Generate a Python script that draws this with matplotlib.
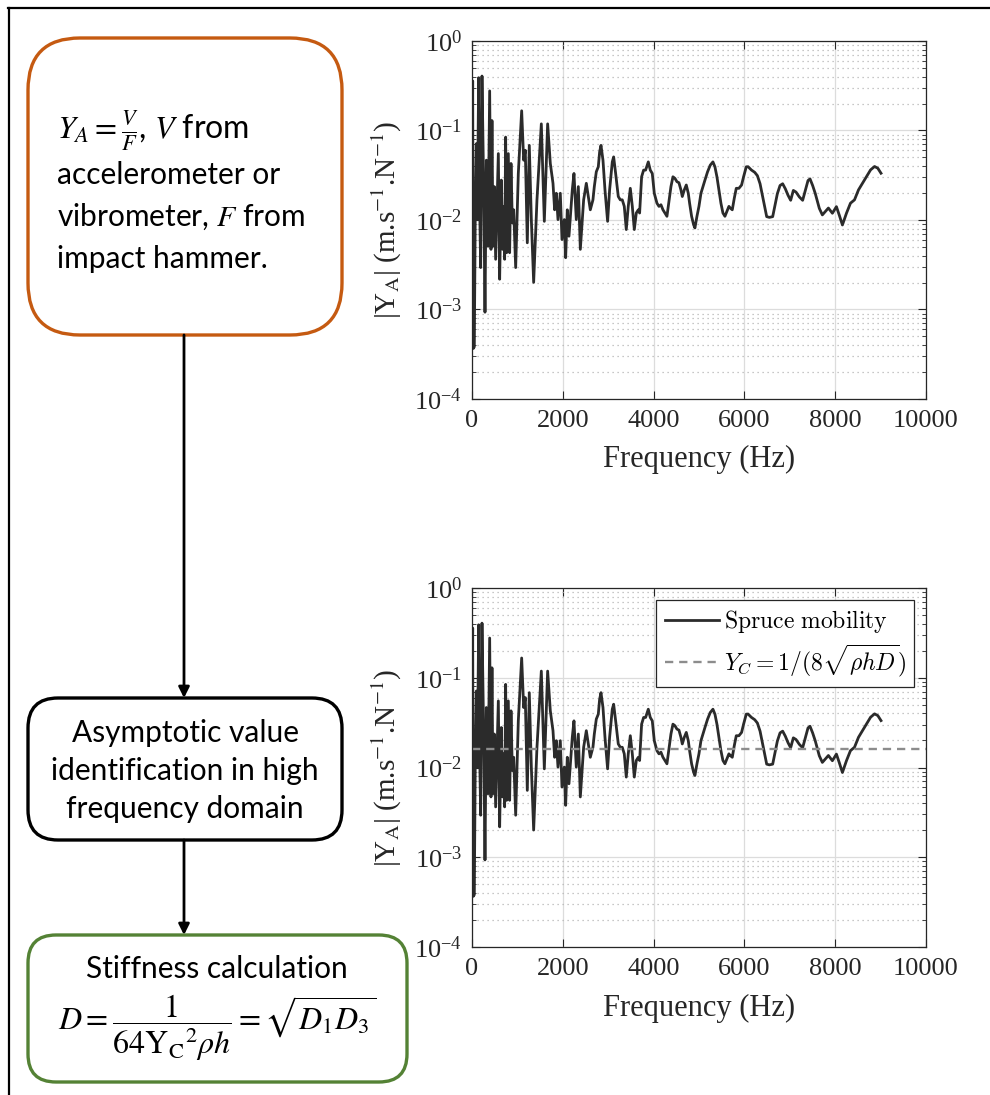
import matplotlib
matplotlib.use('Agg')
import matplotlib.pyplot as plt
from matplotlib.patches import FancyBboxPatch
from matplotlib.ticker import LogLocator, LogFormatterMathtext, NullFormatter
from matplotlib.font_manager import FontProperties

plt.rcParams['font.family'] = 'Liberation Serif'
plt.rcParams['mathtext.fontset'] = 'stix'

# measured point mobility |Y_A| of the spruce plate (Hz, m/s/N)
freq = [0, 15, 29, 51, 73, 95, 117, 147, 169, 191,
        220, 257, 286, 316, 352, 389, 418, 440, 462, 492,
        521, 551, 580, 609, 646, 675, 697, 719, 741, 763,
        800, 829, 859, 888, 918, 962, 1020, 1094, 1138, 1174,
        1218, 1262, 1307, 1358, 1431, 1527, 1593, 1666, 1725, 1784,
        1820, 1857, 1894, 1945, 1982, 2033, 2063, 2099, 2136, 2173,
        2209, 2246, 2297, 2342, 2386, 2459, 2518, 2562, 2606, 2664,
        2694, 2738, 2782, 2811, 2841, 2885, 2929, 2987, 3031, 3090,
        3120, 3164, 3222, 3266, 3310, 3354, 3398, 3442, 3487, 3531,
        3575, 3619, 3663, 3692, 3736, 3780, 3824, 3883, 3927, 3971,
        4015, 4074, 4118, 4162, 4206, 4250, 4294, 4338, 4382, 4426,
        4470, 4514, 4558, 4602, 4632, 4676, 4720, 4764, 4793, 4837,
        4881, 4910, 4955, 4999, 5043, 5087, 5131, 5189, 5248, 5307,
        5351, 5395, 5439, 5483, 5527, 5571, 5615, 5659, 5689, 5733,
        5777, 5821, 5879, 5938, 5982, 6041,
        6081, 6154, 6227, 6286, 6345, 6403, 6447, 6491, 6550, 6623,
        6667, 6726, 6785, 6843, 6902, 6961, 7019, 7078, 7137, 7210,
        7283, 7342, 7401, 7445, 7503, 7562, 7613, 7650, 7717, 7850,
        7938, 8027, 8088, 8159, 8248, 8336, 8425, 8513, 8646, 8779,
        8867, 8938, 9009]

mag = [0.0101, 0.358, 0.000367, 0.000383, 0.0142, 0.0712, 0.0101, 0.389, 0.0142, 0.00294,
       0.406, 0.0236, 0.000933, 0.0466, 0.0051, 0.277, 0.0047, 0.129, 0.0051, 0.0236,
       0.00364, 0.0142, 0.0552, 0.00218, 0.0279, 0.0047, 0.0142, 0.00364, 0.0844, 0.00431,
       0.0552, 0.00431, 0.0428, 0.00927, 0.0130, 0.00294, 0.0331, 0.166, 0.0466, 0.0601,
       0.00556, 0.0682, 0.0101, 0.00201, 0.0168, 0.1186, 0.00966, 0.1186, 0.0428, 0.0257,
       0.0130, 0.0199, 0.0101, 0.0199, 0.00605, 0.0101, 0.00379, 0.0130, 0.00659, 0.01197,
       0.0217, 0.0331, 0.0101, 0.0236, 0.0047, 0.0168, 0.0257, 0.0183, 0.0130, 0.0168,
       0.0236, 0.0346, 0.0393, 0.0575, 0.0682, 0.0466, 0.0217, 0.00966, 0.0217, 0.0446,
       0.0507, 0.0331, 0.0183, 0.0168, 0.0168, 0.0142, 0.00782, 0.0142, 0.0226, 0.0142,
       0.00782, 0.01197, 0.0130, 0.01197, 0.0304, 0.0361, 0.0361, 0.0446, 0.0361, 0.0331,
       0.0199, 0.0154, 0.0142, 0.0148, 0.0130, 0.01197, 0.0110, 0.0161, 0.0236, 0.0304,
       0.0292, 0.0268, 0.0261, 0.0217, 0.0183, 0.0217, 0.0246, 0.0199, 0.0154, 0.0110,
       0.00887, 0.00815, 0.0110, 0.0142, 0.0199, 0.0236, 0.0279, 0.0346, 0.0410, 0.0446,
       0.0393, 0.0304, 0.0217, 0.0154, 0.01197, 0.0110, 0.01247, 0.0142, 0.0136, 0.0130,
       0.0175, 0.0226, 0.0226, 0.0246, 0.0304, 0.0393,
       0.0394, 0.0362, 0.0341, 0.0313, 0.0254, 0.0181, 0.0140, 0.0109, 0.0107, 0.0109,
       0.0140, 0.0197, 0.0243, 0.0254, 0.0223, 0.0189, 0.0166, 0.0214, 0.0205, 0.0181,
       0.0166, 0.0214, 0.0276, 0.0288, 0.0243, 0.0197, 0.0159, 0.0135, 0.0114, 0.0136,
       0.0119, 0.0141, 0.0114, 0.0088, 0.0119, 0.0154, 0.0168, 0.0217, 0.0281, 0.0363,
       0.0396, 0.0379, 0.0333]

# asymptotic (infinite plate) mobility
y_c = 0.016

xticks = [0, 2000, 4000, 6000, 8000, 10000]

fig = plt.figure(figsize=(9.9, 10.95), dpi=100)

# flowchart layer, in pixel units (y downwards)
ov = fig.add_axes([0, 0, 1, 1])
ov.set_xlim(0, 990)
ov.set_ylim(1095, 0)
ov.axis('off')

ov.plot([9, 9], [8, 1095], color='black', lw=1.6)
ov.plot([8, 990], [8, 8], color='black', lw=1.6)


def box(x0, y0, x1, y1, r, color):
    p = FancyBboxPatch((x0, y0), x1 - x0, y1 - y0,
                       boxstyle="round,pad=0,rounding_size=%g" % r,
                       fc='white', ec=color, lw=2.4)
    ov.add_patch(p)


box(28, 38, 342, 335, 52, '#C55A11')
box(28, 698, 342, 840, 30, 'black')
box(28, 935, 407, 1082, 28, '#548235')

arrow = dict(arrowstyle='-|>', color='black', lw=2, mutation_scale=16,
             shrinkA=0, shrinkB=0)
ov.annotate('', xy=(184, 698), xytext=(184, 335), arrowprops=arrow)
ov.annotate('', xy=(184, 935), xytext=(184, 840), arrowprops=arrow)

tkw = dict(family='Lato', fontsize=21.5, color='black', va='baseline')
ov.text(57, 139, r'$Y_A=\frac{V}{F}$, $V$ from', ha='left',
        family='Lato', fontsize=23, color='black', va='baseline')
ov.text(57, 184, 'accelerometer or', ha='left', **tkw)
ov.text(57, 226, r'vibrometer, $F$ from', ha='left', **tkw)
ov.text(57, 268, 'impact hammer.', ha='left', **tkw)

ov.text(185, 742, 'Asymptotic value', ha='center', **tkw)
ov.text(185, 780, 'identification in high', ha='center', **tkw)
ov.text(185, 818, 'frequency domain', ha='center', **tkw)

ov.text(217, 978, 'Stiffness calculation', ha='center', **tkw)
ov.text(217, 1028, r'$D=\dfrac{1}{64\mathrm{Y_C}{}^2\rho h}=\sqrt{D_1D_3}$',
        ha='center', va='center', family='Lato', fontsize=23, color='black')

txt = '#262626'


def panel(rect, with_asymptote):
    ax = fig.add_axes(rect)
    ax.plot(freq, mag, color='#2b2b2b', lw=2.0,
            label=r'$\mathrm{Spruce\ mobility}$')
    if with_asymptote:
        ax.axhline(y_c, color='#8c8c8c', lw=1.7, ls=(0, (3.5, 2.5)),
                   label=r'$Y_C=1/(8\sqrt{\rho hD})$')
    ax.set_yscale('log')
    ax.set_xlim(0, 10000)
    ax.set_ylim(1e-4, 1)
    ax.set_xticks(xticks)
    ax.yaxis.set_major_locator(LogLocator(base=10, numticks=10))
    ax.yaxis.set_major_formatter(LogFormatterMathtext())
    ax.yaxis.set_minor_locator(LogLocator(base=10, subs=range(2, 10), numticks=10))
    ax.yaxis.set_minor_formatter(NullFormatter())
    ax.grid(True, which='major', color='#dcdcdc', lw=0.9)
    ax.grid(True, which='minor', axis='y', color='#b5b5b5', lw=0.9,
            ls=(0, (1, 3)))
    ax.set_axisbelow(True)
    ax.tick_params(which='both', direction='in', top=True, right=True,
                   colors=txt, labelsize=19)
    ax.tick_params(which='major', length=6, width=0.8)
    ax.tick_params(which='minor', length=3, width=0.6)
    ax.tick_params(axis='x', pad=8)
    ax.tick_params(axis='y', pad=7)
    for s in ax.spines.values():
        s.set_color(txt)
        s.set_linewidth(0.9)
    ax.set_xlabel('Frequency (Hz)', fontsize=22, color=txt)
    ax.xaxis.label.set_va('center')
    ax.xaxis.set_label_coords(0.5, -0.170)
    ax.set_ylabel(r'|Y$_\mathrm{A}$| (m.s$^{-1}$.N$^{-1}$)',
                  fontsize=21, color=txt)
    ax.yaxis.label.set_va('center')
    ax.yaxis.set_label_coords(-0.187, 0.5)
    if with_asymptote:
        leg = ax.legend(loc='upper right', fancybox=False, framealpha=1,
                        edgecolor=txt, handlelength=2.3, handletextpad=0.2,
                        borderpad=0.35, labelspacing=0.3,
                        prop=FontProperties(family='DejaVu Serif', size=17,
                                            math_fontfamily='cm'))
        leg.get_frame().set_linewidth(0.9)
    return ax


panel([472 / 990, (1095 - 399) / 1095, 454 / 990, 358 / 1095], False)
panel([472 / 990, (1095 - 947) / 1095, 454 / 990, 359 / 1095], True)

fig.savefig('out.png', dpi=100)
